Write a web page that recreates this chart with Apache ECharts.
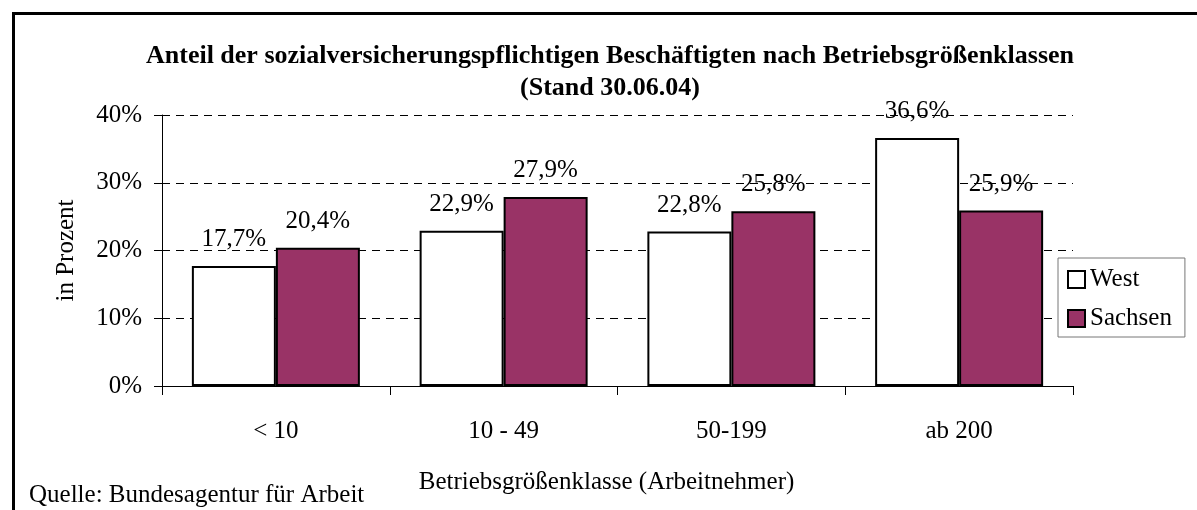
<!DOCTYPE html>
<html>
<head>
<meta charset="utf-8">
<script src="https://cdn.jsdelivr.net/npm/echarts@6/dist/echarts.min.js"></script>
<style>
  html, body { margin: 0; padding: 0; background: #fff; }
  #chart { width: 1197px; height: 510px; }
</style>
</head>
<body>
<div id="chart"></div>
<script>
const categories = ['< 10', '10 - 49', '50-199', 'ab 200'];
const westValues = [17.7, 22.9, 22.8, 36.6];
const sachsenValues = [20.4, 27.9, 25.8, 25.9];
const yTicks = [0, 10, 20, 30, 40];

const font = "'Liberation Serif', 'Times New Roman', serif";
const pct = (v) => String(v).replace('.', ',') + '%';

const chart = echarts.init(document.getElementById('chart'));

const labelStyle = {
  show: true,
  position: 'top',
  distance: 14,
  fontFamily: font,
  fontSize: 25,
  color: '#000',
  formatter: (p) => pct(p.value)
};

chart.setOption({
  animation: false,
  backgroundColor: '#fff',
  title: {
    text: 'Anteil der sozialversicherungspflichtigen Beschäftigten nach Betriebsgrößenklassen\n(Stand 30.06.04)',
    left: 610,
    top: 40,
    padding: 0,
    textAlign: 'center',
    textStyle: {
      fontFamily: font,
      fontSize: 26,
      fontWeight: 'bold',
      color: '#000',
      lineHeight: 32
    }
  },
  grid: {
    left: 162,
    right: 124,
    top: 115,
    bottom: 124
  },
  legend: {
    orient: 'vertical',
    left: 1058,
    top: 258,
    padding: [9, 13, 6, 9],
    itemGap: 14,
    itemWidth: 17,
    itemHeight: 17,
    icon: 'rect',
    backgroundColor: '#fff',
    borderColor: '#777',
    borderWidth: 1,
    textStyle: {
      fontFamily: font,
      fontSize: 25,
      lineHeight: 25,
      color: '#000'
    },
    data: ['West', 'Sachsen']
  },
  xAxis: {
    type: 'category',
    data: categories,
    boundaryGap: true,
    name: 'Betriebsgrößenklasse (Arbeitnehmer)',
    nameLocation: 'middle',
    nameGap: 84,
    nameTextStyle: {
      fontFamily: font,
      fontSize: 25,
      color: '#000',
      padding: [0, 22, 0, 0]
    },
    axisLine: { show: true, lineStyle: { color: '#000', width: 1 } },
    axisTick: { show: true, length: 9, alignWithLabel: false, interval: 0, lineStyle: { color: '#000' } },
    axisLabel: {
      interval: 0,
      margin: 33,
      fontFamily: font,
      fontSize: 25,
      color: '#000'
    },
    splitLine: { show: false }
  },
  yAxis: {
    type: 'value',
    min: yTicks[0],
    max: yTicks[yTicks.length - 1],
    interval: 10,
    name: 'in Prozent',
    nameLocation: 'middle',
    nameGap: 83,
    nameTextStyle: {
      fontFamily: font,
      fontSize: 25,
      color: '#000'
    },
    axisLine: { show: true, lineStyle: { color: '#000', width: 1 } },
    axisTick: { show: true, length: 8, lineStyle: { color: '#000' } },
    axisLabel: {
      margin: 20,
      fontFamily: font,
      fontSize: 25,
      color: '#000',
      formatter: '{value}%'
    },
    splitLine: {
      show: true,
      lineStyle: { color: '#000', width: 1, type: [8, 6] }
    }
  },
  series: [
    {
      name: 'West',
      type: 'bar',
      data: westValues,
      barWidth: 84,
      barGap: '0%',
      itemStyle: { color: '#fff', borderColor: '#000', borderWidth: 2 },
      label: labelStyle
    },
    {
      name: 'Sachsen',
      type: 'bar',
      data: sachsenValues,
      barWidth: 84,
      barGap: '0%',
      itemStyle: { color: '#993366', borderColor: '#000', borderWidth: 2 },
      label: labelStyle
    }
  ],
  graphic: [
    {
      type: 'rect',
      shape: { x: 13.5, y: 13.5, width: 1200, height: 510 },
      style: { fill: 'none', stroke: '#000', lineWidth: 3 },
      silent: true
    },
    {
      type: 'text',
      left: 29,
      top: 483,
      style: {
        text: 'Quelle: Bundesagentur für Arbeit',
        fontFamily: font,
        fontSize: 25,
        fill: '#000'
      }
    }
  ]
});
</script>
</body>
</html>
